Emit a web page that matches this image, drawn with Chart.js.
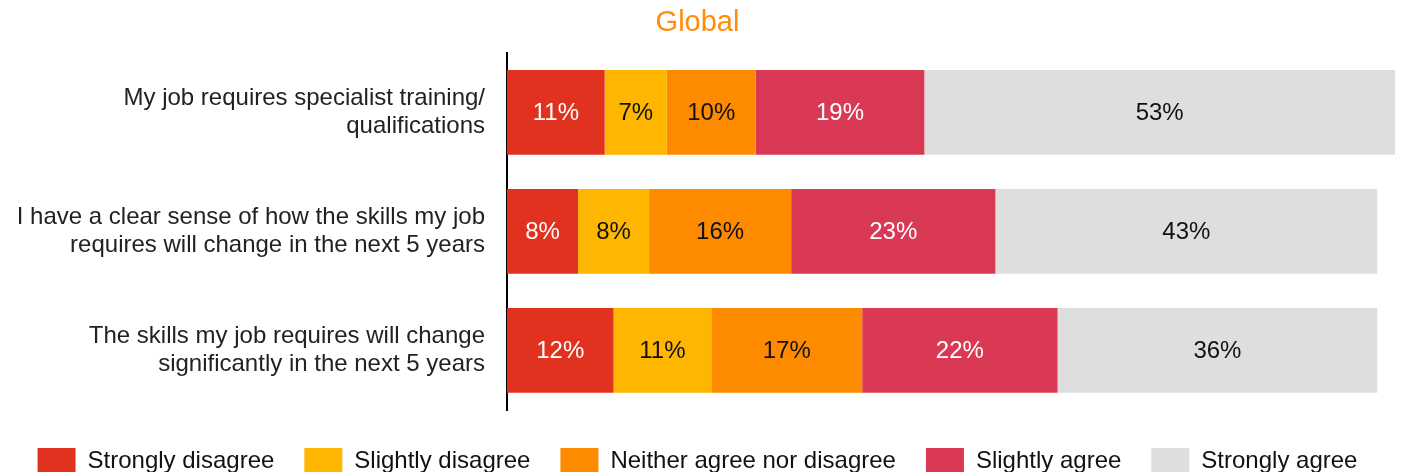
<!DOCTYPE html>
<html>
<head>
<meta charset="utf-8">
<script src="https://cdn.jsdelivr.net/npm/chart.js@4.4.1/dist/chart.umd.min.js"></script>
<style>
  html, body { margin: 0; padding: 0; background: #fff; overflow: hidden; }
  #wrap { position: relative; width: 1401px; height: 484px; }
</style>
</head>
<body>
<div id="wrap"><canvas id="chart"></canvas></div>
<script>
// Chart data
const categories = [
  ["My job requires specialist training/", "qualifications"],
  ["I have a clear sense of how the skills my job", "requires will change in the next 5 years"],
  ["The skills my job requires will change", "significantly in the next 5 years"]
];
const seriesNames = ["Strongly disagree", "Slightly disagree", "Neither agree nor disagree", "Slightly agree", "Strongly agree"];
const stronglyDisagree = [11, 8, 12];
const slightlyDisagree = [7, 8, 11];
const neither = [10, 16, 17];
const slightlyAgree = [19, 23, 22];
const stronglyAgree = [53, 43, 36];
const colors = ["#E0321F", "#FFB600", "#FE8A00", "#DA3955", "#DEDEDE"];
const labelColors = ["#ffffff", "#111111", "#111111", "#ffffff", "#111111"];

const FONT = "'Liberation Sans', Arial, Helvetica, sans-serif";
const allSeries = [stronglyDisagree, slightlyDisagree, neither, slightlyAgree, stronglyAgree];

// Draw the % value in the middle of every segment
const valueLabels = {
  id: "valueLabels",
  afterDatasetsDraw(chart) {
    const ctx = chart.ctx;
    ctx.save();
    ctx.font = "24px " + FONT;
    ctx.textAlign = "center";
    ctx.textBaseline = "middle";
    chart.data.datasets.forEach((ds, i) => {
      const meta = chart.getDatasetMeta(i);
      meta.data.forEach((bar, j) => {
        ctx.fillStyle = labelColors[i];
        ctx.fillText(ds.data[j] + "%", (bar.x + bar.base) / 2, bar.y + 1);
      });
    });
    ctx.restore();
  }
};

const ctx = document.getElementById("chart").getContext("2d");
new Chart(ctx, {
  type: "bar",
  data: {
    labels: categories,
    datasets: seriesNames.map((name, i) => ({
      label: name,
      data: allSeries[i],
      backgroundColor: colors[i],
      borderWidth: 0,
      barPercentage: 0.712,
      categoryPercentage: 1
    }))
  },
  options: {
    indexAxis: "y",
    responsive: true,
    maintainAspectRatio: false,
    animation: false,
    layout: { padding: { left: 0, right: 6, top: 0, bottom: 0 } },
    plugins: {
      title: {
        display: true,
        text: "Global",
        color: "#FF8C0A",
        font: { family: FONT, size: 29, weight: "normal" },
        padding: { top: 6, bottom: 12 }
      },
      legend: {
        position: "bottom",
        labels: {
          boxWidth: 38,
          boxHeight: 26,
          padding: 30,
          color: "#111",
          font: { family: FONT, size: 24 }
        }
      },
      tooltip: { enabled: false }
    },
    scales: {
      x: {
        stacked: true,
        min: 0,
        max: 100,
        ticks: { display: false },
        grid: { display: false },
        border: { display: false },
        afterFit: (s) => { s.height = 8; }
      },
      y: {
        stacked: true,
        grid: { display: false },
        border: { display: true, color: "#000", width: 2 },
        ticks: {
          color: "#222",
          padding: 14,
          font: { family: FONT, size: 24, lineHeight: 1.2 }
        },
        afterFit: (s) => { s.width = 507; }
      }
    }
  },
  plugins: [valueLabels]
});
</script>
</body>
</html>
